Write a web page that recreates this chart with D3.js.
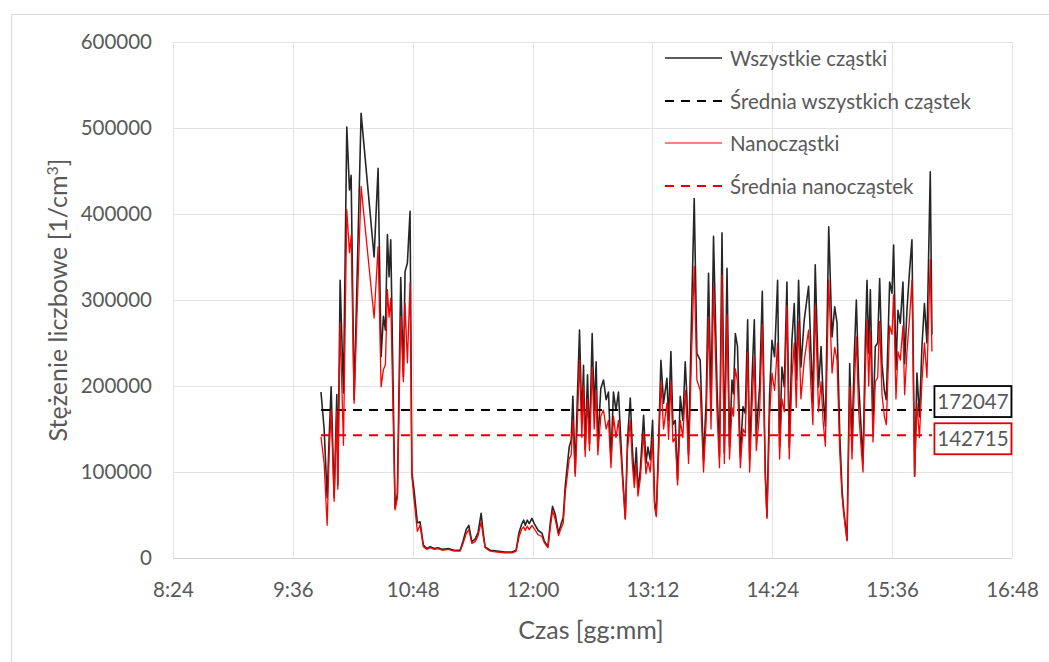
<!DOCTYPE html>
<html><head><meta charset="utf-8">
<script src="https://cdn.jsdelivr.net/npm/d3@7"></script>
<style>
body{margin:0;background:#fff}
text{font-family:Lato,"Open Sans",sans-serif;fill:#595959}
</style>
</head><body>
<svg id="c" width="1049" height="662"></svg>
<script>
// X tick labels (time of day)
const timeTicks = ["8:24","9:36","10:48","12:00","13:12","14:24","15:36","16:48"];
// Y tick values
const yTicks = [0,100000,200000,300000,400000,500000,600000];
// Series names
const seriesNames = ["Wszystkie cząstki","Średnia wszystkich cząstek","Nanocząstki","Średnia nanocząstek"];
// Sample times: minutes since midnight
const times = [
592.9,594.8,596.6,597.8,599.0,600.8,602.4,603.0,604.4,606.4,
608.4,610.0,611.0,612.8,617.0,624.8,627.2,629.0,630.4,631.6,
632.8,633.8,634.8,637.4,638.8,640.8,642.4,643.4,644.8,646.4,
647.5,648.8,650.8,652.4,654.4,656.5,658.5,660.9,663.3,665.7,
669.3,672.9,676.5,678.3,680.1,681.7,683.5,685.5,687.3,689.1,
690.3,691.5,694.5,698.7,703.5,707.7,710.1,711.9,713.6,714.7,
715.6,716.8,718.0,719.6,721.0,723.4,725.6,727.0,729.2,730.6,
732.0,733.6,735.6,737.2,738.4,739.6,741.0,742.0,743.2,744.2,
745.6,746.8,748.2,749.6,750.6,751.6,753.0,754.2,755.8,757.0,
758.2,759.2,761.0,762.6,764.2,765.6,767.1,768.6,770.1,771.6,
773.1,774.0,775.7,777.0,778.7,779.9,781.1,782.3,783.3,784.7,
786.7,788.1,789.3,790.7,792.1,793.3,794.3,795.7,797.1,798.7,
800.7,801.7,803.1,804.3,805.7,807.1,808.7,810.3,811.7,812.7,
813.7,815.7,817.1,818.7,820.7,822.7,824.3,825.7,827.2,828.7,
830.8,832.3,833.8,835.2,836.8,838.3,839.8,840.7,841.8,843.1,
844.8,846.4,847.8,849.2,850.4,851.8,853.2,854.4,856.4,858.0,
859.8,860.8,862.4,863.8,865.4,867.2,868.4,869.8,871.2,872.8,
874.2,875.8,877.2,878.4,879.8,881.2,883.2,885.8,887.2,888.4,
889.8,891.8,893.3,894.5,895.9,897.9,899.9,901.5,902.9,904.5,
905.9,906.9,908.9,910.5,911.9,913.3,914.5,915.9,917.3,918.5,
919.9,920.9,921.9,922.9,924.5,925.9,927.3,928.5,929.9,931.3,
932.5,934.5,935.9,936.9,938.3,939.5,940.9,942.5,943.5,944.9,
946.5,947.9,949.5,950.9,952.4,953.9,955.4,956.9,958.9,959.9
];
// All particles [1/cm3]
const allParticles = [
193000,150000,70000,140000,199000,71000,190000,85000,323000,192000,
501000,428000,445000,184000,517000,350000,453000,234000,281000,265000,
376000,327000,370000,58000,75000,326000,211000,333000,343000,403000,
99000,79000,41000,42000,15000,11000,13000,11000,12000,10000,
11000,9000,9000,20000,33000,38000,19000,22000,30000,52000,
30000,13000,9000,8000,7000,7000,9000,30000,40000,44000,
38000,44000,40000,46000,40000,32000,29000,20000,13000,40000,
60000,51000,29000,40000,47000,83000,110000,129000,137000,188000,
99000,180000,265000,157000,224000,126000,213000,133000,261000,172000,
228000,133000,197000,207000,184000,193000,116000,193000,172000,193000,
133000,100000,46000,137000,186000,129000,91000,128000,79000,102000,
166000,110000,129000,114000,160000,65000,50000,133000,230000,180000,
209000,160000,240000,155000,160000,91000,188000,160000,228000,188000,
120000,300000,418000,238000,230000,114000,184000,331000,176000,374000,
199000,118000,378000,122000,337000,129000,207000,191000,261000,246000,
118000,176000,168000,277000,114000,207000,277000,145000,199000,310000,
99000,48000,191000,253000,234000,323000,129000,222000,199000,321000,
129000,253000,296000,207000,323000,222000,277000,316000,242000,180000,
341000,199000,246000,191000,153000,385000,257000,292000,273000,145000,
79000,56000,21000,226000,133000,238000,300000,203000,153000,110000,
253000,323000,238000,312000,157000,246000,250000,325000,226000,195000,
184000,321000,308000,364000,219000,288000,273000,321000,226000,288000,
335000,370000,95000,215000,164000,246000,296000,250000,449000,260000
];
// Nanoparticles [1/cm3]
const nanoParticles = [
141000,110000,38000,120000,172000,66000,172000,80000,273000,131000,
405000,355000,375000,180000,432000,279000,362000,199000,219000,225000,
312000,280000,302000,56000,70000,281000,205000,296000,227000,320000,
95000,68000,31000,38000,13000,10000,12000,10000,11000,9000,
10000,8000,8000,17000,28000,33000,17000,19000,26000,42000,
26000,12000,8000,7000,6000,6000,8000,25000,34000,36000,
32000,37000,33000,38000,34000,27000,25000,18000,12000,34000,
55000,45000,26000,35000,40000,75000,98000,115000,120000,160000,
95000,150000,230000,140000,200000,118000,185000,125000,222000,150000,
195000,120000,165000,172000,150000,160000,105000,165000,140000,160000,
120000,92000,45000,125000,160000,110000,82000,110000,72000,92000,
145000,98000,112000,100000,140000,60000,48000,120000,205000,150000,
180000,138000,205000,135000,140000,85000,160000,140000,195000,160000,
110000,250000,339000,207000,195000,100000,160000,280000,150000,316000,
170000,105000,329000,110000,283000,115000,175000,165000,220000,205000,
105000,150000,145000,240000,100000,175000,235000,125000,170000,272000,
92000,46000,165000,215000,195000,250000,115000,185000,170000,293000,
115000,210000,250000,175000,275000,185000,230000,265000,200000,155000,
293000,170000,205000,160000,130000,323000,215000,245000,230000,125000,
72000,52000,20000,199000,115000,200000,257000,170000,130000,100000,
215000,277000,200000,265000,135000,205000,210000,275000,190000,165000,
155000,270000,260000,306000,185000,240000,230000,270000,190000,240000,
280000,323000,95000,180000,140000,205000,250000,210000,347000,240000
];
// Means
const meanAll = 172047;
const meanNano = 142715;

const svg = d3.select("#c");
const L = 173, R = 1012, T = 42, B = 558;
const toMin = s => { const [h,m] = s.split(":").map(Number); return h*60+m; };
const tickMins = timeTicks.map(toMin);
const x = d3.scaleLinear().domain([tickMins[0], tickMins[tickMins.length-1]]).range([L,R]);
const y = d3.scaleLinear().domain([0,600000]).range([B,T]);
const FS = "20.5px";

// outer frame
svg.append("rect").attr("x",11.5).attr("y",14.5).attr("width",1060).attr("height",700)
  .attr("fill","none").attr("stroke","#d9d9d9");

// grid
const g = svg.append("g");
g.selectAll(".hg").data(yTicks).join("line")
  .attr("x1",L).attr("x2",R).attr("y1",d=>Math.round(y(d))+0.5).attr("y2",d=>Math.round(y(d))+0.5)
  .attr("stroke","#e3e3e3").attr("stroke-width",1);
g.selectAll(".vg").data(tickMins).join("line")
  .attr("y1",T).attr("y2",B).attr("x1",d=>Math.round(x(d))+0.5).attr("x2",d=>Math.round(x(d))+0.5)
  .attr("stroke","#e3e3e3").attr("stroke-width",1);
svg.append("line").attr("x1",L).attr("x2",R).attr("y1",B+0.5).attr("y2",B+0.5).attr("stroke","#d0d0d0");

// axes labels via d3 axes
const xAxis = d3.axisBottom(x).tickValues(tickMins).tickSize(0).tickPadding(0)
  .tickFormat((d,i)=>timeTicks[i]);
const xa = svg.append("g").attr("transform",`translate(0,${B+24})`).call(xAxis);
xa.select(".domain").remove();
xa.selectAll("text").style("font-family","Lato").style("font-size",FS).attr("fill","#595959").attr("dy","0.71em");

const yAxis = d3.axisLeft(y).tickValues(yTicks).tickSize(0).tickPadding(0).tickFormat(d3.format("d"));
const ya = svg.append("g").attr("transform",`translate(${L-21},0)`).call(yAxis);
ya.select(".domain").remove();
ya.selectAll("text").style("font-family","Lato").style("font-size",FS).attr("fill","#595959");

// axis titles
svg.append("text").attr("x",591).attr("y",639).attr("text-anchor","middle")
  .style("font-size","25px").text("Czas [gg:mm]");
const yt = svg.append("text").attr("transform","translate(67,300) rotate(-90)").attr("text-anchor","middle")
  .style("font-size","25px");
yt.append("tspan").text("Stężenie liczbowe [1/cm");
yt.append("tspan").attr("dy",-9).style("font-size","16px").text("3");
yt.append("tspan").attr("dy",9).text("]");

// data
const idx = d3.range(times.length);
const line = arr => d3.line().x(i=>x(times[i])).y(i=>y(arr[i]));
const tStart = times[0], tEnd = times[times.length-1];

svg.append("path").attr("d",line(allParticles)(idx)).attr("fill","none")
  .attr("stroke","#262626").attr("stroke-width",1.6).attr("stroke-linejoin","round");
svg.append("line").attr("x1",x(tStart)).attr("x2",x(tEnd)).attr("y1",y(meanAll)).attr("y2",y(meanAll))
  .attr("stroke","#000").attr("stroke-width",2).attr("stroke-dasharray","9,7");
svg.append("path").attr("d",line(nanoParticles)(idx)).attr("fill","none")
  .attr("stroke","#ff0000").attr("stroke-width",1.3).attr("stroke-linejoin","round");
svg.append("line").attr("x1",x(tStart)).attr("x2",x(tEnd)).attr("y1",y(meanNano)).attr("y2",y(meanNano))
  .attr("stroke","#e00000").attr("stroke-width",2).attr("stroke-dasharray","9,7");

// value labels
const labels = [
  {v:meanAll, c:"#000", yc:y(meanAll)-9},
  {v:meanNano, c:"#e00000", yc:y(meanNano)+3}
];
labels.forEach(l=>{
  svg.append("rect").attr("x",x(tEnd)+2.5).attr("y",l.yc-15).attr("width",77).attr("height",31)
    .attr("fill","#fff").attr("stroke",l.c).attr("stroke-width",1.8);
  svg.append("text").attr("x",x(tEnd)+41).attr("y",l.yc+7.5).attr("text-anchor","middle")
    .style("font-size",FS).text(l.v);
});

// legend
const leg = [
  {c:"#262626", dash:null, w:1.4},
  {c:"#000", dash:"9,7", w:2},
  {c:"#ff5555", dash:null, w:1.4},
  {c:"#e00000", dash:"9,7", w:2}
];
const legY = [58, 101, 143, 186];
leg.forEach((d,i)=>{
  svg.append("line").attr("x1",665).attr("x2",722).attr("y1",legY[i]).attr("y2",legY[i])
    .attr("stroke",d.c).attr("stroke-width",d.w).attr("stroke-dasharray",d.dash);
  svg.append("text").attr("x",730).attr("y",legY[i]+7.5).style("font-size",FS).text(seriesNames[i]);
});
</script>
</body></html>
